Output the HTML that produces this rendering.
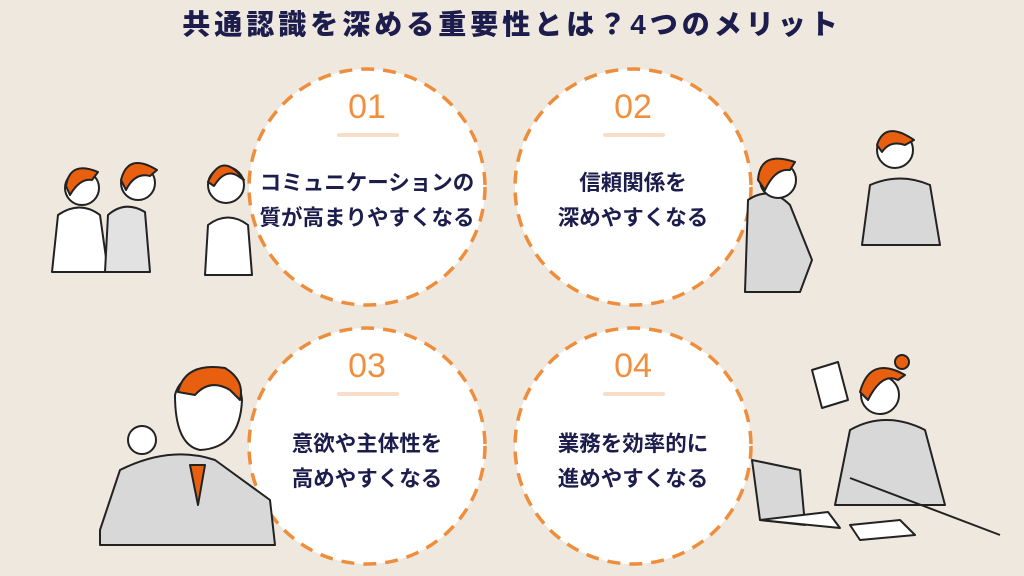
<!DOCTYPE html>
<html><head><meta charset="utf-8"><style>
html,body{margin:0;padding:0}
body{width:1024px;height:576px;background:#efe8de;position:relative;overflow:hidden;font-family:"Liberation Sans","Noto Sans CJK JP",sans-serif}
.title{position:absolute;left:0;width:1024px;top:3px;text-align:center;font-size:28px;font-weight:900;color:#1d1d4d;letter-spacing:4px}
.c{position:absolute;width:238px;height:238px;margin:-119px 0 0 -119px}
.t{position:absolute;left:-10px;width:258px;text-align:center}
.n{top:20px;font-size:34px;color:#f0903f;font-weight:300}
.l{font-size:21.5px;font-weight:700;color:#1d1d4d;line-height:35px}
</style></head><body>
<div class="title">共通認識を深める重要性とは？4つのメリット</div>
<svg width="1024" height="576" style="position:absolute;left:0;top:0">
<g fill="#fff" stroke="#ee8e3d" stroke-width="3.5" stroke-dasharray="13 9">
<circle cx="367" cy="187" r="118"/><circle cx="633" cy="187" r="118"/>
<circle cx="367" cy="446" r="118"/><circle cx="633" cy="446" r="118"/>
</g>
<g fill="#f6d5bb" opacity="0.8">
<rect x="337" y="133" width="62" height="4" rx="2"/><rect x="603" y="133" width="62" height="4" rx="2"/>
<rect x="337" y="392" width="62" height="4" rx="2"/><rect x="603" y="392" width="62" height="4" rx="2"/>
</g>
<g stroke="#222" stroke-width="2" stroke-linejoin="round">
<path d="M52 272 L58 215 Q80 200 100 215 L108 272 Z" fill="#fff"/>
<circle cx="82" cy="188" r="17" fill="#fff"/><path d="M66 186 Q70 160 98 172 L92 180 Q80 178 70 195 Z" fill="#e8600f"/>
<path d="M105 272 L108 215 Q125 200 145 212 L150 272 Z" fill="#e2e2e2"/>
<circle cx="138" cy="183" r="17" fill="#fff"/><path d="M121 180 Q128 152 157 170 L150 176 Q135 172 126 190 Z" fill="#e8600f"/>
<path d="M205 275 L208 225 Q228 210 248 225 L252 275 Z" fill="#fff"/>
<circle cx="226" cy="185" r="18" fill="#fff"/><path d="M208 182 Q222 150 244 180 L238 176 Q225 168 214 186 Z" fill="#e8600f"/>
<path d="M745 292 L748 200 Q770 185 790 205 L812 260 L800 292 Z" fill="#d8d8d8"/>
<circle cx="778" cy="180" r="18" fill="#fff"/><path d="M758 180 Q760 150 795 162 L790 170 Q775 168 765 190 Z" fill="#e8600f"/>
<path d="M862 245 L870 185 Q900 172 930 185 L940 245 Z" fill="#d8d8d8"/>
<circle cx="895" cy="150" r="18" fill="#fff"/><path d="M877 145 Q885 120 914 140 L905 145 Q890 140 882 152 Z" fill="#e8600f"/>
<path d="M100 530 L120 470 Q170 445 215 460 L270 500 L275 545 L100 545 Z" fill="#d8d8d8"/>
<path d="M175 395 Q175 445 200 450 Q240 448 242 400 Q240 375 210 372 Q180 374 175 395 Z" fill="#fff"/>
<path d="M178 392 Q185 362 225 368 Q245 380 240 400 L230 390 Q210 378 195 395 Z" fill="#e8600f"/>
<path d="M190 465 L198 505 L205 465 Z" fill="#e8600f"/>
<circle cx="142" cy="440" r="14" fill="#fff"/>
<path d="M835 505 L850 430 Q885 410 925 430 L945 505 Z" fill="#d8d8d8"/>
<circle cx="880" cy="395" r="19" fill="#fff"/><path d="M860 392 Q870 355 905 375 L898 380 Q882 372 868 400 Z" fill="#e8600f"/>
<circle cx="902" cy="362" r="7" fill="#e8600f"/>
<path d="M812 370 L838 362 L848 400 L822 408 Z" fill="#fff"/>
<path d="M752 460 L800 470 L805 525 L760 520 Z" fill="#d8d8d8"/>
<path d="M760 520 L840 528 L828 512 Z" fill="#fff"/>
<path d="M850 525 L900 520 L915 535 L860 540 Z" fill="#fff"/>
<path d="M850 478 L1000 535" fill="none"/>
</g>
</svg>
<div class="c" style="left:367px;top:187px"><div class="t n">01</div><div class="t l" style="top:98px">コミュニケーションの<br>質が高まりやすくなる</div></div>
<div class="c" style="left:633px;top:187px"><div class="t n">02</div><div class="t l" style="top:98px">信頼関係を<br>深めやすくなる</div></div>
<div class="c" style="left:367px;top:446px"><div class="t n">03</div><div class="t l" style="top:100px">意欲や主体性を<br>高めやすくなる</div></div>
<div class="c" style="left:633px;top:446px"><div class="t n">04</div><div class="t l" style="top:100px">業務を効率的に<br>進めやすくなる</div></div>
</body></html>
